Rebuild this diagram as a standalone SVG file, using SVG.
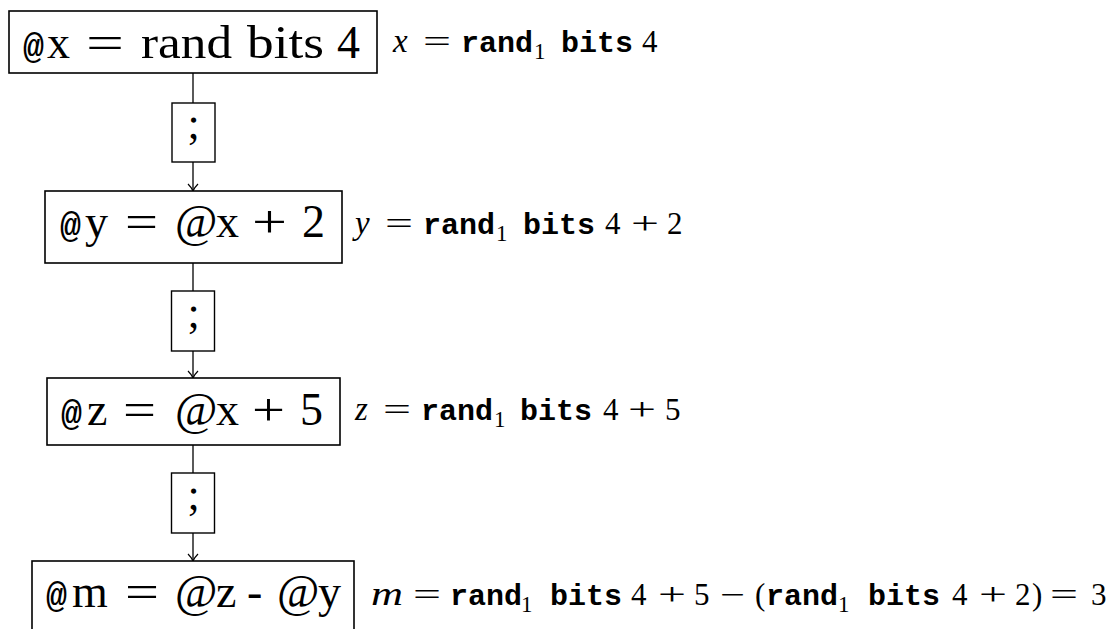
<svg xmlns="http://www.w3.org/2000/svg" width="1112" height="629" viewBox="0 0 1112 629">
<style>
.box{fill:#fff;stroke:#000;stroke-width:1.6}
.lab{fill:#fff;stroke:#000;stroke-width:1.4}
.edge{fill:none;stroke:#000;stroke-width:1.3}
.rm{font-family:"Liberation Serif","Times New Roman",serif;font-size:46px;fill:#000}
.tt{font-family:"Liberation Mono","Courier New",monospace;font-size:35px;font-weight:bold;fill:#000}
.semi{font-family:"Liberation Serif","Times New Roman",serif;font-size:44px;fill:#000;text-anchor:middle}
.ai{font-family:"Liberation Serif","Times New Roman",serif;font-size:33px;font-style:italic;fill:#000}
.ar{font-family:"Liberation Serif","Times New Roman",serif;font-size:31px;fill:#000}
.as{font-family:"Liberation Serif","Times New Roman",serif;font-size:23px;fill:#000}
.at{font-family:"Liberation Mono","Courier New",monospace;font-size:30px;font-weight:bold;fill:#000}
</style>
<defs>
<marker id="arr" viewBox="-9 -7 11 14" refX="0" refY="0" markerWidth="11" markerHeight="14" orient="auto" markerUnits="userSpaceOnUse">
<path d="M-7,-5 Q-3,-1 0,0 Q-3,1 -7,5" fill="none" stroke="#000" stroke-width="1.2"/>
</marker>
</defs>

<g id="connectors">
<path class="edge" d="M193,73 V103"/>
<path class="edge" d="M193,162 V191" marker-end="url(#arr)"/>
<path class="edge" d="M193,263 V291"/>
<path class="edge" d="M193,351 V378" marker-end="url(#arr)"/>
<path class="edge" d="M193,445 V473"/>
<path class="edge" d="M193,533 V561" marker-end="url(#arr)"/>
<g id="seq1"><rect class="lab" x="172" y="103" width="43" height="59"/><text class="semi" x="193.5" y="138">;</text></g>
<g id="seq2"><rect class="lab" x="171.5" y="291" width="43" height="60"/><text class="semi" x="193.5" y="327">;</text></g>
<g id="seq3"><rect class="lab" x="171.5" y="473" width="43" height="60"/><text class="semi" x="193.5" y="509">;</text></g>
</g>

<g id="node-x">
<rect class="box" x="9" y="11" width="368" height="62"/>
<text class="tt" x="23" y="58">@</text>
<text class="rm" x="47" y="58">x</text>
<text class="rm" x="86" y="58" textLength="38" lengthAdjust="spacingAndGlyphs">=</text>
<text class="rm" x="141" y="58" textLength="91" lengthAdjust="spacingAndGlyphs">rand</text>
<text class="rm" x="247" y="58" textLength="77" lengthAdjust="spacingAndGlyphs">bits</text>
<text class="rm" x="337" y="58">4</text>
</g>
<g id="note-x">
<text class="ai" x="393" y="52">x</text>
<text class="ar" x="423" y="52" textLength="28" lengthAdjust="spacingAndGlyphs">=</text>
<text class="at" x="461" y="52">rand</text>
<text class="as" x="534" y="59">1</text>
<text class="at" x="561" y="52">bits</text>
<text class="ar" x="642" y="52">4</text>
</g>

<g id="node-y">
<rect class="box" x="45" y="191" width="297" height="72"/>
<text class="tt" x="60" y="237">@</text>
<text class="rm" x="85" y="237">y</text>
<text class="rm" x="125" y="237" textLength="33" lengthAdjust="spacingAndGlyphs">=</text>
<text class="rm" x="175" y="237">@</text>
<text class="rm" x="216" y="237">x</text>
<text class="rm" x="252" y="237" textLength="35" lengthAdjust="spacingAndGlyphs">+</text>
<text class="rm" x="302" y="237">2</text>
</g>
<g id="note-y">
<text class="ai" x="355" y="234">y</text>
<text class="ar" x="385" y="234" textLength="28" lengthAdjust="spacingAndGlyphs">=</text>
<text class="at" x="423" y="234">rand</text>
<text class="as" x="496" y="241">1</text>
<text class="at" x="523" y="234">bits</text>
<text class="ar" x="605" y="234">4</text>
<text class="ar" x="631" y="234" textLength="28" lengthAdjust="spacingAndGlyphs">+</text>
<text class="ar" x="667" y="234">2</text>
</g>

<g id="node-z">
<rect class="box" x="47" y="378" width="293" height="67"/>
<text class="tt" x="61" y="425">@</text>
<text class="rm" x="87" y="425">z</text>
<text class="rm" x="123" y="425" textLength="33" lengthAdjust="spacingAndGlyphs">=</text>
<text class="rm" x="175" y="425">@</text>
<text class="rm" x="216" y="425">x</text>
<text class="rm" x="252" y="425" textLength="33" lengthAdjust="spacingAndGlyphs">+</text>
<text class="rm" x="300" y="425">5</text>
</g>
<g id="note-z">
<text class="ai" x="355" y="420">z</text>
<text class="ar" x="383" y="420" textLength="28" lengthAdjust="spacingAndGlyphs">=</text>
<text class="at" x="421" y="420">rand</text>
<text class="as" x="494" y="427">1</text>
<text class="at" x="520" y="420">bits</text>
<text class="ar" x="603" y="420">4</text>
<text class="ar" x="628" y="420" textLength="28" lengthAdjust="spacingAndGlyphs">+</text>
<text class="ar" x="665" y="420">5</text>
</g>

<g id="node-m">
<rect class="box" x="32" y="561" width="322" height="90"/>
<text class="tt" x="46" y="607">@</text>
<text class="rm" x="72" y="607">m</text>
<text class="rm" x="125" y="607" textLength="34" lengthAdjust="spacingAndGlyphs">=</text>
<text class="rm" x="175" y="607">@</text>
<text class="rm" x="216" y="607">z</text>
<text class="rm" x="247" y="607">-</text>
<text class="rm" x="277" y="607">@</text>
<text class="rm" x="318" y="607">y</text>
</g>
<g id="note-m">
<text class="ai" x="371" y="605" textLength="32" lengthAdjust="spacingAndGlyphs">m</text>
<text class="ar" x="413" y="605" textLength="28" lengthAdjust="spacingAndGlyphs">=</text>
<text class="at" x="450" y="605">rand</text>
<text class="as" x="521" y="612">1</text>
<text class="at" x="550" y="605">bits</text>
<text class="ar" x="631" y="605">4</text>
<text class="ar" x="658" y="605" textLength="28" lengthAdjust="spacingAndGlyphs">+</text>
<text class="ar" x="694" y="605">5</text>
<text class="ar" x="720" y="605" textLength="25" lengthAdjust="spacingAndGlyphs">−</text>
<text class="ar" x="755" y="605">(</text>
<text class="at" x="766" y="605">rand</text>
<text class="as" x="838" y="612">1</text>
<text class="at" x="868" y="605">bits</text>
<text class="ar" x="952" y="605">4</text>
<text class="ar" x="979" y="605" textLength="28" lengthAdjust="spacingAndGlyphs">+</text>
<text class="ar" x="1015" y="605">2</text>
<text class="ar" x="1032" y="605">)</text>
<text class="ar" x="1050" y="605" textLength="28" lengthAdjust="spacingAndGlyphs">=</text>
<text class="ar" x="1091" y="605">3</text>
</g>
</svg>
